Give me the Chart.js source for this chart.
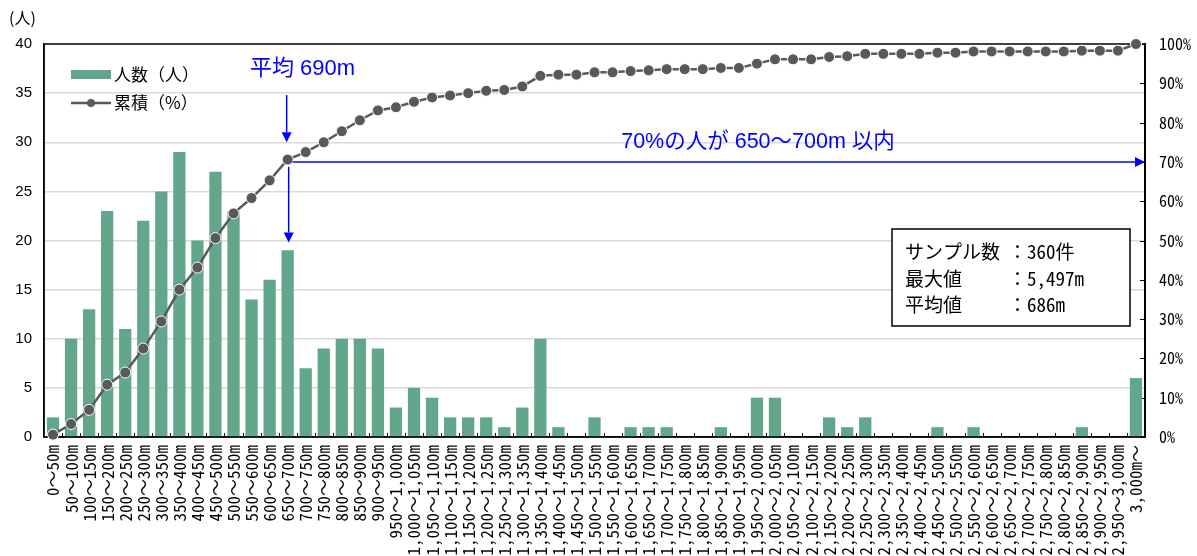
<!DOCTYPE html>
<html lang="ja">
<head>
<meta charset="utf-8">
<script src="https://cdn.jsdelivr.net/npm/chart.js@4.4.1/dist/chart.umd.min.js"></script>
<style>
  html, body { margin: 0; padding: 0; background: #fff; overflow: hidden; }
</style>
</head>
<body>
<canvas id="chart" width="1197" height="556"></canvas>
<script>
const categories = [
  "0～50m", "50～100m", "100～150m", "150～200m", "200～250m", "250～300m", "300～350m", "350～400m",
  "400～450m", "450～500m", "500～550m", "550～600m", "600～650m", "650～700m", "700～750m", "750～800m",
  "800～850m", "850～900m", "900～950m", "950～1,000m", "1,000～1,050m", "1,050～1,100m", "1,100～1,150m",
  "1,150～1,200m", "1,200～1,250m", "1,250～1,300m", "1,300～1,350m", "1,350～1,400m", "1,400～1,450m",
  "1,450～1,500m", "1,500～1,550m", "1,550～1,600m", "1,600～1,650m", "1,650～1,700m", "1,700～1,750m",
  "1,750～1,800m", "1,800～1,850m", "1,850～1,900m", "1,900～1,950m", "1,950～2,000m", "2,000～2,050m",
  "2,050～2,100m", "2,100～2,150m", "2,150～2,200m", "2,200～2,250m", "2,250～2,300m", "2,300～2,350m",
  "2,350～2,400m", "2,400～2,450m", "2,450～2,500m", "2,500～2,550m", "2,550～2,600m", "2,600～2,650m",
  "2,650～2,700m", "2,700～2,750m", "2,750～2,800m", "2,800～2,850m", "2,850～2,900m", "2,900～2,950m",
  "2,950～3,000m", "3,000m～"
];

// 人数（人）
const counts = [
  2, 10, 13, 23, 11, 22, 25, 29, 20, 27, 23, 14, 16, 19, 7, 9, 10, 10, 9, 3,
  5, 4, 2, 2, 2, 1, 3, 10, 1, 0, 2, 0, 1, 1, 1, 0, 0, 1, 0, 4,
  4, 0, 0, 2, 1, 2, 0, 0, 0, 1, 0, 1, 0, 0, 0, 0, 0, 1, 0, 0,
  6
];

// 累積（%）
const cumulative = [
  0.6, 3.3, 6.9, 13.3, 16.4, 22.5, 29.4, 37.5, 43.1, 50.6, 56.9, 60.8, 65.3, 70.6, 72.5, 75.0,
  77.8, 80.6, 83.1, 83.9, 85.3, 86.4, 86.9, 87.5, 88.1, 88.3, 89.2, 91.9, 92.2, 92.2, 92.8, 92.8,
  93.1, 93.3, 93.6, 93.6, 93.6, 93.9, 93.9, 95.0, 96.1, 96.1, 96.1, 96.7, 96.9, 97.5, 97.5, 97.5,
  97.5, 97.8, 97.8, 98.1, 98.1, 98.1, 98.1, 98.1, 98.1, 98.3, 98.3, 98.3, 100
];

const leftTicks = { min: 0, max: 40, step: 5 };
const rightTicks = { min: 0, max: 100, step: 10 };

const FONT = "'Liberation Sans', 'Noto Sans CJK JP', sans-serif";
const MONO = "'Noto Sans Mono CJK JP', 'Liberation Sans', 'Noto Sans CJK JP', sans-serif";
const JP = "'Noto Sans CJK JP', sans-serif";
const GREEN = "#62a78b";
const GREY = "#595959";
const BLUE = "#0000ff";

function arrow(ctx, x1, y1, x2, y2, head) {
  const a = Math.atan2(y2 - y1, x2 - x1);
  const bx = x2 - head * Math.cos(a), by = y2 - head * Math.sin(a);
  ctx.beginPath();
  ctx.moveTo(x1, y1);
  ctx.lineTo(bx, by);
  ctx.stroke();
  ctx.beginPath();
  ctx.moveTo(x2, y2);
  ctx.lineTo(bx + head * 0.5 * Math.sin(a), by - head * 0.5 * Math.cos(a));
  ctx.lineTo(bx - head * 0.5 * Math.sin(a), by + head * 0.5 * Math.cos(a));
  ctx.closePath();
  ctx.fill();
}

const frame = {
  id: "frame",
  beforeDatasetsDraw(chart) {
    const { ctx, chartArea: a, scales } = chart;
    ctx.save();
    ctx.strokeStyle = "#000";
    ctx.lineWidth = 1.5;
    ctx.strokeRect(a.left, a.top, a.right - a.left, a.bottom - a.top);
    // small tick marks inside the plot
    const step = (a.right - a.left) / categories.length;
    ctx.lineWidth = 1;
    ctx.beginPath();
    for (let i = 1; i < categories.length; i++) {
      const x = Math.round(a.left + i * step) + 0.5;
      ctx.moveTo(x, a.bottom);
      ctx.lineTo(x, a.bottom - 4);
    }
    for (let v = rightTicks.min; v <= rightTicks.max; v += rightTicks.step) {
      const y = Math.round(scales.y1.getPixelForValue(v)) + 0.5;
      ctx.moveTo(a.right, y);
      ctx.lineTo(a.right - 5, y);
    }
    ctx.stroke();
    ctx.restore();
  },
  afterDatasetsDraw(chart) {
    const { ctx, scales } = chart;
    const x13 = scales.x.getPixelForValue(13);
    const yL = v => scales.y.getPixelForValue(v);
    const yR = v => scales.y1.getPixelForValue(v);
    ctx.save();

    // y axis unit
    ctx.fillStyle = "#000";
    ctx.font = "16px " + JP;
    ctx.textBaseline = "middle";
    ctx.fillText("(人)", 9, 18);

    // legend
    ctx.fillStyle = GREEN;
    ctx.fillRect(71, 70, 40, 9);
    ctx.strokeStyle = GREY;
    ctx.lineWidth = 2.5;
    ctx.beginPath();
    ctx.moveTo(71, 103);
    ctx.lineTo(111, 103);
    ctx.stroke();
    ctx.fillStyle = GREY;
    ctx.beginPath();
    ctx.arc(91, 103, 4, 0, Math.PI * 2);
    ctx.fill();
    ctx.fillStyle = "#000";
    ctx.font = "17px " + JP;
    ctx.fillText("人数（人）", 114, 75);
    ctx.fillText("累積（%）", 114, 103);

    // annotations
    ctx.strokeStyle = BLUE;
    ctx.fillStyle = BLUE;
    ctx.lineWidth = 1.5;
    arrow(ctx, x13 - 1, yL(34.8), x13 - 1, yL(30.0), 10);
    arrow(ctx, x13 + 1, yL(27.5), x13 + 1, yL(19.8), 10);
    arrow(ctx, x13 + 5, yR(70), scales.y1.left, yR(70), 10);

    ctx.font = "22px " + FONT;
    ctx.textAlign = "left";
    ctx.fillText("平均 690m", 250, 69);
    ctx.font = "21.5px " + FONT;
    ctx.textAlign = "center";
    ctx.fillText("70%の人が 650～700m 以内", 758, 142);

    // info box
    ctx.fillStyle = "#fff";
    ctx.fillRect(892, 229, 238, 97);
    ctx.strokeStyle = "#000";
    ctx.lineWidth = 1.5;
    ctx.strokeRect(892, 229, 238, 97);
    ctx.fillStyle = "#000";
    ctx.textAlign = "left";
    ctx.font = "19px " + MONO;
    const rows = [["サンプル数", "：360件", 252], ["最大値", "：5,497m", 279], ["平均値", "：686m", 305]];
    rows.forEach(r => {
      ctx.fillText(r[0], 905, r[2]);
      ctx.fillText(r[1], 1008, r[2]);
    });
    ctx.restore();
  }
};

new Chart(document.getElementById("chart"), {
  type: "bar",
  data: {
    labels: categories,
    datasets: [
      {
        type: "line",
        label: "累積（%）",
        data: cumulative,
        yAxisID: "y1",
        borderColor: GREY,
        borderWidth: 2.5,
        pointRadius: 5.5,
        pointBackgroundColor: GREY,
        pointBorderColor: "#fff",
        pointBorderWidth: 1,
        tension: 0,
        clip: false
      },
      {
        type: "bar",
        label: "人数（人）",
        data: counts,
        yAxisID: "y",
        backgroundColor: GREEN,
        barPercentage: 0.68,
        categoryPercentage: 1
      }
    ]
  },
  options: {
    responsive: false,
    animation: false,
    layout: { padding: { top: 44, left: 0, right: 0, bottom: 0 } },
    plugins: { legend: { display: false }, tooltip: { enabled: false } },
    scales: {
      x: {
        grid: { display: false, drawTicks: false },
        border: { color: "#000", width: 1.5 },
        ticks: {
          autoSkip: false, maxRotation: 90, minRotation: 90, padding: 8,
          color: "#000", font: { size: 17, family: MONO }
        },
        afterFit(s) { s.height = 119; }
      },
      y: {
        position: "left",
        min: leftTicks.min, max: leftTicks.max,
        ticks: { stepSize: leftTicks.step, padding: 12, color: "#000", font: { size: 15, family: FONT } },
        grid: {
          drawTicks: false, lineWidth: 1.5,
          color: c => (c.tick.value === leftTicks.min || c.tick.value === leftTicks.max) ? "rgba(0,0,0,0)" : "#d9d9d9"
        },
        border: { color: "#000", width: 1.5 },
        afterFit(s) { s.width = 44; }
      },
      y1: {
        position: "right",
        min: rightTicks.min, max: rightTicks.max,
        ticks: {
          stepSize: rightTicks.step, padding: 14, color: "#000",
          font: { size: 16, family: MONO },
          callback: v => v + "%"
        },
        grid: { display: false, drawTicks: false },
        border: { color: "#000", width: 2 },
        afterFit(s) { s.width = 52; }
      }
    }
  },
  plugins: [frame]
});
</script>
</body>
</html>
